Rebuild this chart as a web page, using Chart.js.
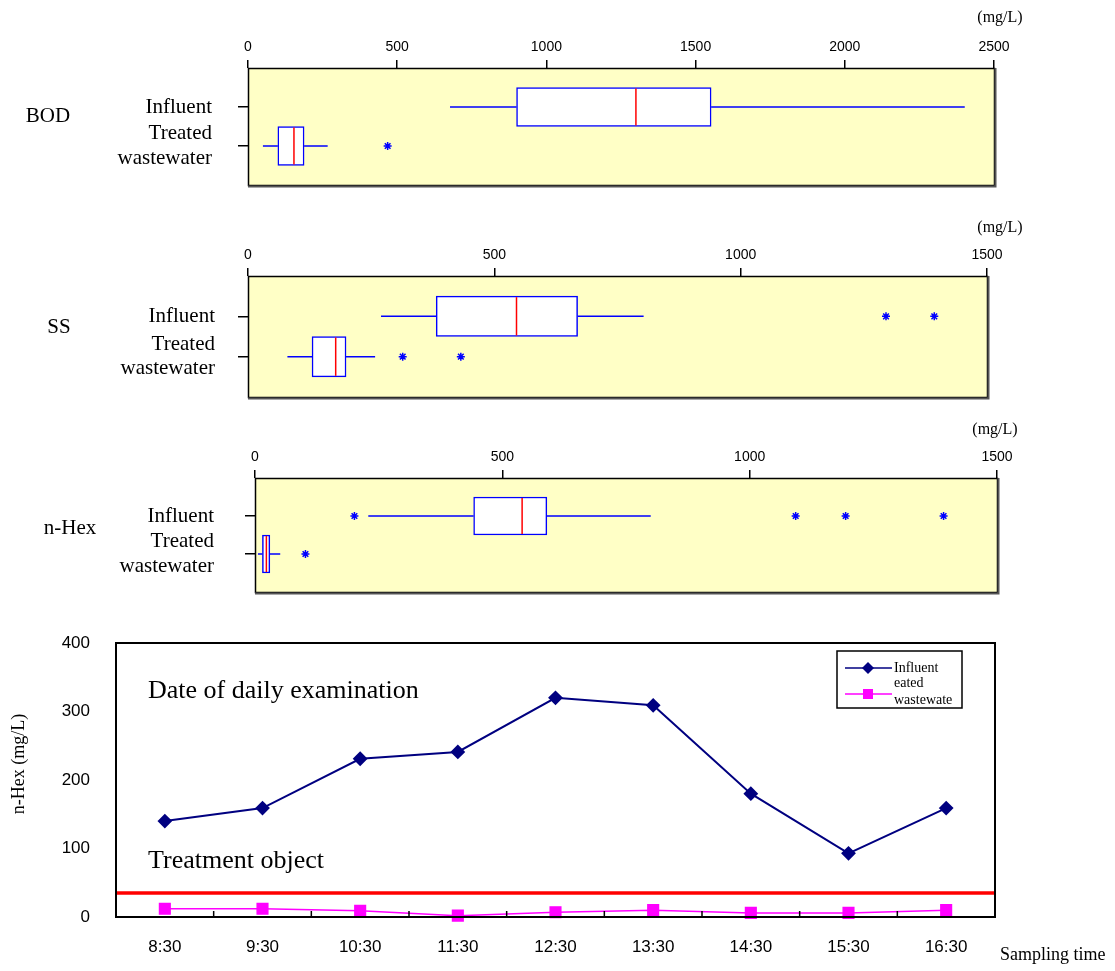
<!DOCTYPE html>
<html>
<head>
<meta charset="utf-8">
<title>BOD / SS / n-Hex</title>
<script src="https://cdn.jsdelivr.net/npm/chart.js@4.4.1/dist/chart.umd.min.js"></script>
<style>
  html, body { margin: 0; padding: 0; background: #fff; }
  #wrap { position: relative; width: 1115px; height: 971px; overflow: hidden; }
  .box { position: absolute; left: 0; width: 1115px; }
</style>
</head>
<body>
<div id="wrap">
  <div class="box" style="top:0;height:192px"><canvas id="bod"></canvas></div>
  <div class="box" style="top:200px;height:205px"><canvas id="ss"></canvas></div>
  <div class="box" style="top:405px;height:195px"><canvas id="hex"></canvas></div>
  <div class="box" style="top:625px;height:346px"><canvas id="line"></canvas></div>
</div>
<script>
// groups shown on each box plot
const groups = ["Influent", "Treated wastewater"];

// box plots: [min, q1, median, q3, max] (mg/L)
const bodInfluent = [677, 900, 1300, 1552, 2402];
const bodTreated = [50, 100, 154, 188, 267];
const bodOutInfluent = [];
const bodOutTreated = [468];

const ssInfluent = [270, 382, 545, 669, 803];
const ssTreated = [80, 130, 178, 199, 258];
const ssOutInfluent = [1295, 1393];
const ssOutTreated = [314, 432];

const hexInfluent = [229, 442, 540, 590, 800];
const hexTreated = [6, 15, 23, 30, 51];
const hexOutInfluent = [201, 1093, 1194, 1392];
const hexOutTreated = [102];

// daily examination of n-Hex
const times = ["8:30", "9:30", "10:30", "11:30", "12:30", "13:30", "14:30", "15:30", "16:30"];
const influentHex = [140, 159, 231, 241, 320, 309, 180, 93, 159];
const treatedHex = [12, 12, 9, 2, 7, 10, 6, 6, 10];
const treatmentObject = 35;

const SERIF = "'Liberation Serif', 'Times New Roman', serif";
Chart.defaults.font.family = "'Liberation Sans', Arial, sans-serif";
Chart.defaults.color = "#000";
Chart.defaults.animation = false;
Chart.defaults.plugins.legend.display = false;
Chart.defaults.plugins.tooltip.enabled = false;

function boxChart(id, g) {
    const boxes = [g.influent, g.treated];
    const outliers = [];
    [g.outInfluent, g.outTreated].forEach((arr, i) => {
        arr.forEach(v => outliers.push({ x: v, y: i + 1 }));
    });

    const parts = {
        id: "boxParts",
        beforeDraw(chart) {
            const a = chart.chartArea, ctx = chart.ctx;
            ctx.save();
            ctx.fillStyle = "#ffffc6";
            ctx.fillRect(a.left, a.top, a.right - a.left, a.bottom - a.top);
            ctx.restore();
        },
        beforeDatasetsDraw(chart) {
            const xs = chart.scales.x, ys = chart.scales.y, ctx = chart.ctx;
            ctx.save();
            ctx.strokeStyle = "#0000ff";
            ctx.lineWidth = 1.5;
            boxes.forEach((b, i) => {
                const y = ys.getPixelForValue(i + 1);
                ctx.beginPath();
                ctx.moveTo(xs.getPixelForValue(b[0]), y);
                ctx.lineTo(xs.getPixelForValue(b[1]), y);
                ctx.moveTo(xs.getPixelForValue(b[3]), y);
                ctx.lineTo(xs.getPixelForValue(b[4]), y);
                ctx.stroke();
            });
            ctx.restore();
        },
        afterDatasetsDraw(chart) {
            const xs = chart.scales.x, ctx = chart.ctx, a = chart.chartArea;
            const bars = chart.getDatasetMeta(0).data;
            ctx.save();
            // medians
            ctx.strokeStyle = "#ff0000";
            ctx.lineWidth = 1.5;
            boxes.forEach((b, i) => {
                const x = xs.getPixelForValue(b[2]), el = bars[i];
                ctx.beginPath();
                ctx.moveTo(x, el.y - el.height / 2 + 1);
                ctx.lineTo(x, el.y + el.height / 2 - 1);
                ctx.stroke();
            });
            // frame
            ctx.strokeStyle = "#000";
            ctx.lineWidth = 1.5;
            ctx.strokeRect(a.left + 0.5, a.top + 0.5, a.right - a.left, a.bottom - a.top);
            ctx.strokeStyle = "#555";
            ctx.lineWidth = 2;
            ctx.beginPath();
            ctx.moveTo(a.right + 1.5, a.top);
            ctx.lineTo(a.right + 1.5, a.bottom + 1.5);
            ctx.lineTo(a.left, a.bottom + 1.5);
            ctx.stroke();
            // texts
            ctx.fillStyle = "#000";
            ctx.textAlign = "center";
            ctx.textBaseline = "middle";
            ctx.font = "21px " + SERIF;
            ctx.fillText(g.name, g.nameX, g.nameY);
            ctx.font = "16px " + SERIF;
            ctx.fillText("(mg/L)", g.unitX, g.unitY);
            ctx.restore();
        }
    };

    return new Chart(document.getElementById(id), {
        type: "bar",
        data: {
            datasets: [
                {
                    type: "bar",
                    indexAxis: "y",
                    data: boxes.map((b, i) => ({ y: i + 1, x: [b[1], b[3]] })),
                    backgroundColor: "#ffffff",
                    borderColor: "#0000ff",
                    borderWidth: 1.5,
                    borderSkipped: false,
                    barPercentage: 1,
                    categoryPercentage: 1,
                },
                {
                    type: "scatter",
                    data: outliers,
                    pointStyle: "star",
                    pointRadius: 4,
                    borderColor: "#0000ff",
                    borderWidth: 1.5,
                },
            ],
        },
        options: {
            responsive: true,
            maintainAspectRatio: false,
            layout: { padding: { left: 0, top: 0, right: 1115 - g.right, bottom: g.height - g.bottom } },
            scales: {
                x: {
                    type: "linear",
                    position: "top",
                    offset: false,
                    min: 0,
                    max: g.max,
                    ticks: { stepSize: 500, font: { size: 14 }, padding: 4, callback: v => String(v) },
                    grid: { offset: false, drawOnChartArea: false, color: "#000", tickLength: 8, lineWidth: 1.5 },
                    border: { display: false },
                    afterFit: s => { s.height = g.top; },
                },
                y: {
                    type: "linear",
                    offset: false,
                    min: 0,
                    max: 3,
                    reverse: true,
                    afterBuildTicks: s => { s.ticks = groups.map((_, i) => ({ value: i + 1 })); },
                    ticks: {
                        callback: v => groups[Math.round(v) - 1].split(" "),
                        font: { family: SERIF, size: 21, lineHeight: 1.15 },
                        padding: g.labelPad,
                    },
                    grid: { offset: false, drawOnChartArea: false, color: "#000", tickLength: 10, lineWidth: 1.5 },
                    border: { display: false },
                    afterFit: s => { s.width = g.left; s.paddingTop = 0; s.paddingBottom = 0; },
                },
            },
        },
        plugins: [parts],
    });
}

boxChart("bod", {
    name: "BOD", influent: bodInfluent, treated: bodTreated,
    outInfluent: bodOutInfluent, outTreated: bodOutTreated, max: 2500,
    height: 192, top: 68, bottom: 185, left: 248, right: 994, labelPad: 26,
    nameX: 48, nameY: 116, unitX: 1000, unitY: 18,
});

boxChart("ss", {
    name: "SS", influent: ssInfluent, treated: ssTreated,
    outInfluent: ssOutInfluent, outTreated: ssOutTreated, max: 1500,
    height: 205, top: 76, bottom: 197, left: 248, right: 987, labelPad: 23,
    nameX: 59, nameY: 127, unitX: 1000, unitY: 28,
});

boxChart("hex", {
    name: "n-Hex", influent: hexInfluent, treated: hexTreated,
    outInfluent: hexOutInfluent, outTreated: hexOutTreated, max: 1500,
    height: 195, top: 73, bottom: 187, left: 255, right: 997, labelPad: 31,
    nameX: 70, nameY: 123, unitX: 995, unitY: 25,
});

// line chart extras: target line, frame, inner ticks, notes and legend
const lineParts = {
    id: "lineParts",
    beforeDatasetsDraw(chart) {
        const a = chart.chartArea, ctx = chart.ctx, ys = chart.scales.y;
        const y = ys.getPixelForValue(treatmentObject);
        ctx.save();
        ctx.strokeStyle = "#ff0000";
        ctx.lineWidth = 3.5;
        ctx.beginPath();
        ctx.moveTo(a.left, y);
        ctx.lineTo(a.right, y);
        ctx.stroke();
        ctx.restore();
    },
    afterDraw(chart) {
        const a = chart.chartArea, ctx = chart.ctx, xs = chart.scales.x;
        ctx.save();
        ctx.strokeStyle = "#000";
        ctx.lineWidth = 2;
        ctx.strokeRect(a.left, a.top, a.right - a.left, a.bottom - a.top);
        ctx.lineWidth = 1.5;
        ctx.beginPath();
        for (let i = 0; i < times.length - 1; i++) {
            const x = (xs.getPixelForValue(i) + xs.getPixelForValue(i + 1)) / 2;
            ctx.moveTo(x, a.bottom);
            ctx.lineTo(x, a.bottom - 6);
        }
        ctx.stroke();

        ctx.fillStyle = "#000";
        ctx.textBaseline = "middle";
        ctx.textAlign = "left";
        ctx.font = "26px " + SERIF;
        ctx.fillText("Date of daily examination", 148, 66);
        ctx.fillText("Treatment object", 148, 236);
        ctx.font = "18px " + SERIF;
        ctx.fillText("Sampling time", 1000, 330);

        // y axis title
        ctx.save();
        ctx.translate(19, 139);
        ctx.rotate(-Math.PI / 2);
        ctx.textAlign = "center";
        ctx.font = "18px " + SERIF;
        ctx.fillText("n-Hex (mg/L)", 0, 0);
        ctx.restore();

        // legend
        ctx.lineWidth = 1.5;
        ctx.strokeRect(837, 26, 125, 57);
        ctx.strokeStyle = "#000080";
        ctx.fillStyle = "#000080";
        ctx.beginPath();
        ctx.moveTo(845, 43);
        ctx.lineTo(892, 43);
        ctx.stroke();
        ctx.beginPath();
        ctx.moveTo(862, 43); ctx.lineTo(868, 37); ctx.lineTo(874, 43); ctx.lineTo(868, 49);
        ctx.closePath();
        ctx.fill();
        ctx.strokeStyle = "#ff00ff";
        ctx.fillStyle = "#ff00ff";
        ctx.beginPath();
        ctx.moveTo(845, 69);
        ctx.lineTo(892, 69);
        ctx.stroke();
        ctx.fillRect(863, 64, 10, 10);
        ctx.fillStyle = "#000";
        ctx.font = "14px " + SERIF;
        ctx.fillText("Influent", 894, 43);
        ctx.fillText("eated", 894, 58);
        ctx.fillText("wastewate", 894, 75);
        ctx.restore();
    }
};

new Chart(document.getElementById("line"), {
    type: "line",
    data: {
        labels: times,
        datasets: [
            {
                label: "Influent",
                data: influentHex,
                borderColor: "#000080",
                backgroundColor: "#000080",
                borderWidth: 2,
                pointStyle: "rectRot",
                pointRadius: 6,
            },
            {
                label: "Treated wastewater",
                data: treatedHex,
                borderColor: "#ff00ff",
                backgroundColor: "#ff00ff",
                borderWidth: 1.5,
                pointStyle: "rect",
                pointRadius: 7.5,
            },
        ],
    },
    options: {
        responsive: true,
        maintainAspectRatio: false,
        clip: false,
        layout: { autoPadding: false, padding: { left: 0, top: 18, right: 120, bottom: 0 } },
        scales: {
            x: {
                offset: true,
                ticks: { font: { size: 17 }, padding: 20 },
                grid: { display: false, drawTicks: false },
                border: { display: false },
                afterFit: s => { s.height = 54; },
            },
            y: {
                min: 0,
                max: 400,
                ticks: { stepSize: 100, font: { size: 17 }, padding: 26 },
                grid: { display: false, drawTicks: false },
                border: { display: false },
                afterFit: s => { s.width = 116; s.paddingTop = 0; s.paddingBottom = 0; },
            },
        },
    },
    plugins: [lineParts],
});
</script>
</body>
</html>
